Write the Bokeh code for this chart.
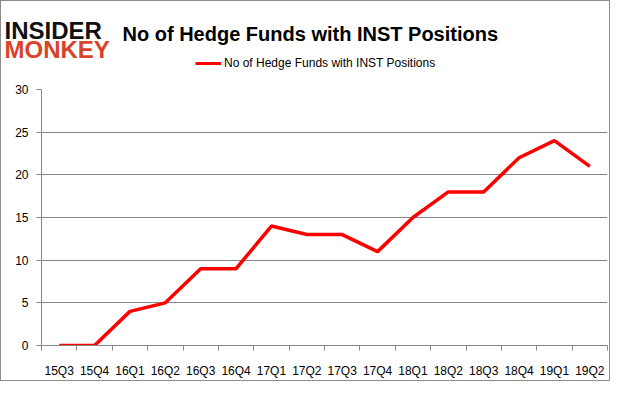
from bokeh.plotting import figure
from bokeh.layouts import column
from bokeh.models import (FixedTicker, Range1d, Legend, LegendItem, Label,
                          ColumnDataSource)
from bokeh.embed import file_html
from bokeh.resources import INLINE

quarters = ["15Q3", "15Q4", "16Q1", "16Q2", "16Q3", "16Q4", "17Q1", "17Q2",
            "17Q3", "17Q4", "18Q1", "18Q2", "18Q3", "18Q4", "19Q1", "19Q2"]
hedge_funds = [0, 0, 4, 5, 9, 9, 14, 13, 13, 11, 15, 18, 18, 22, 24, 21]
y_ticks = [0, 5, 10, 15, 20, 25, 30]
series_name = "No of Hedge Funds with INST Positions"
title_text = "No of Hedge Funds with INST Positions"

LINE_COLOR = "#ff0000"
GRID_COLOR = "#868686"
FONT = "Liberation Sans"
W = 608

centers = [i + 0.5 for i in range(len(quarters))]
bounds = [float(i) for i in range(len(quarters) + 1)]

# ---------------- header (logo, title, legend) ----------------
HEADER_H = 81
header = figure(width=W, height=HEADER_H, output_backend="svg",
                toolbar_location=None, x_axis_location=None,
                y_axis_location=None, x_range=Range1d(0, 1),
                y_range=Range1d(0, 1), min_border=0, frame_align=False)
header.outline_line_color = None
header.grid.visible = False
header.border_fill_color = "white"

# legend sample only (a single undefined point draws no line in the header)
legend_src = ColumnDataSource(dict(x=[float("nan")], y=[float("nan")]))
lr = header.line("x", "y", source=legend_src, line_color=LINE_COLOR,
                 line_width=3)
legend = Legend(items=[LegendItem(label=series_name, renderers=[lr])],
                location=(194, 12), padding=0, spacing=0, margin=0,
                label_standoff=3, glyph_width=26, glyph_height=14,
                label_height=14, label_text_font=FONT,
                label_text_font_size="12px", label_text_color="#000000",
                border_line_color=None, background_fill_alpha=0)
header.add_layout(legend, "center")

header.add_layout(Label(x=121, y=HEADER_H - 32, x_units="screen",
                        y_units="screen", text=title_text, text_font=FONT,
                        text_font_style="bold", text_font_size="20px",
                        text_color="#000000", text_baseline="alphabetic"))
header.add_layout(Label(x=3, y=HEADER_H - 29, x_units="screen",
                        y_units="screen", text="INSIDER", text_font=FONT,
                        text_font_style="bold", text_font_size="24px",
                        text_color="#111111", text_baseline="alphabetic"))
header.add_layout(Label(x=3, y=HEADER_H - 48, x_units="screen",
                        y_units="screen", text="MONKEY", text_font=FONT,
                        text_font_style="bold", text_font_size="24px",
                        text_color="#d8432c", text_baseline="alphabetic"))

# ---------------- main chart ----------------
MAIN_H = 298
p = figure(width=W, height=MAIN_H, output_backend="svg", toolbar_location=None,
           x_range=Range1d(0, len(quarters)), y_range=Range1d(0, 30),
           min_border_left=40, min_border_right=2, min_border_top=7,
           min_border_bottom=32, frame_align=False)
p.outline_line_color = None
p.background_fill_color = "white"
p.border_fill_color = "white"

src = ColumnDataSource(dict(x=centers, y=hedge_funds))
p.line("x", "y", source=src, line_color=LINE_COLOR, line_width=3.5)

# x axis: labels at category centers, tick marks at category boundaries
p.xaxis.ticker = FixedTicker(ticks=centers, minor_ticks=bounds)
p.xaxis.major_label_overrides = {c: q for c, q in zip(centers, quarters)}
p.xaxis.major_tick_out = 0
p.xaxis.major_tick_in = 0
p.xaxis.minor_tick_out = 5
p.xaxis.minor_tick_in = 0
p.xaxis.minor_tick_line_color = GRID_COLOR
p.xaxis.axis_line_color = GRID_COLOR
p.xaxis.major_label_standoff = 13
p.xaxis.major_label_text_font = FONT
p.xaxis.major_label_text_font_size = "12px"
p.xaxis.major_label_text_color = "#000000"
p.xgrid.visible = False

p.yaxis.ticker = FixedTicker(ticks=y_ticks)
p.yaxis.major_tick_out = 5
p.yaxis.major_tick_in = 0
p.yaxis.minor_tick_line_color = None
p.yaxis.major_tick_line_color = GRID_COLOR
p.yaxis.axis_line_color = GRID_COLOR
p.yaxis.major_label_standoff = 8
p.yaxis.major_label_text_font = FONT
p.yaxis.major_label_text_font_size = "12px"
p.yaxis.major_label_text_color = "#000000"
p.ygrid.grid_line_color = GRID_COLOR
p.ygrid.grid_line_width = 1

layout = column(header, p, spacing=0)
layout.styles = {"border": "1px solid #8c8c8c"}

open("out.html", "w").write(file_html(layout, INLINE))
